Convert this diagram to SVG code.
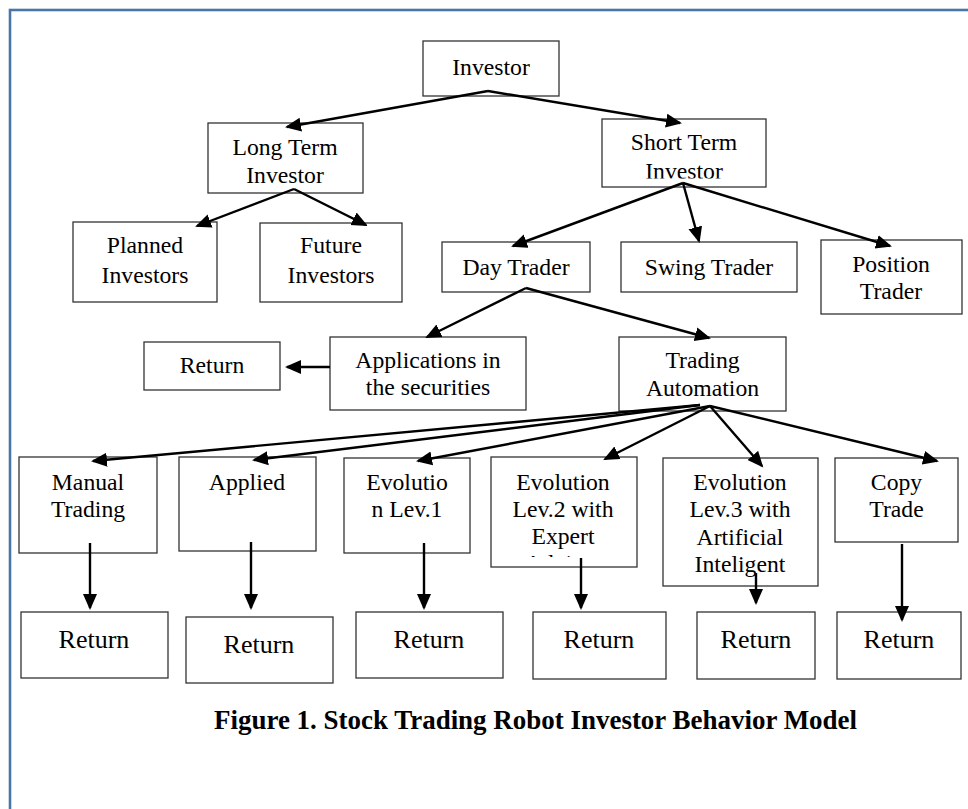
<svg xmlns="http://www.w3.org/2000/svg" width="968" height="809" viewBox="0 0 968 809">
  <style>
    .box { fill: #ffffff; stroke: #333333; stroke-width: 1.3; }
    .t { font-family: "Liberation Serif", "Times New Roman", serif; font-size: 23.7px; fill: #000000; text-anchor: middle; }
    .tr { font-size: 26px; }
    .cap { font-family: "Liberation Serif", "Times New Roman", serif; font-size: 26.5px; font-weight: bold; fill: #000000; }
    .edge { stroke: #000000; stroke-width: 2.4; fill: none; marker-end: url(#arrow); }
  </style>
  <defs>
    <marker id="arrow" markerUnits="userSpaceOnUse" markerWidth="18" markerHeight="16" refX="14" refY="7.5" orient="auto">
      <path d="M0,0.5 L16,7.5 L0,14.5 Z" fill="#000000"/>
    </marker>
    <clipPath id="clipShort"><rect x="602" y="119" width="164" height="59.5"/></clipPath>
    <clipPath id="clipEvo2"><rect x="491" y="457" width="146" height="100"/></clipPath>
  </defs>

  <rect width="968" height="809" fill="#ffffff"/>
  <!-- page frame -->
  <rect x="10" y="10" width="1000" height="850" fill="none" stroke="#4a76a6" stroke-width="2.6"/>

  <g id="investor">
    <rect class="box" x="423" y="41" width="136" height="55"/>
    <text class="t" x="491" y="75">Investor</text>
  </g>
  <g id="long-term">
    <rect class="box" x="208" y="123" width="155" height="70"/>
    <text class="t" x="285" y="155">Long Term</text>
    <text class="t" x="285" y="183">Investor</text>
  </g>
  <g id="short-term">
    <rect class="box" x="602" y="119" width="164" height="68"/>
    <text class="t" x="684" y="150">Short Term</text>
    <text class="t" x="684" y="179" clip-path="url(#clipShort)">Investor</text>
  </g>
  <g id="planned">
    <rect class="box" x="73" y="222" width="144" height="80"/>
    <text class="t" x="145" y="253">Planned</text>
    <text class="t" x="145" y="283">Investors</text>
  </g>
  <g id="future">
    <rect class="box" x="260" y="223" width="142" height="79"/>
    <text class="t" x="331" y="253">Future</text>
    <text class="t" x="331" y="283">Investors</text>
  </g>
  <g id="day-trader">
    <rect class="box" x="442" y="242" width="148" height="50"/>
    <text class="t" x="516" y="275">Day Trader</text>
  </g>
  <g id="swing-trader">
    <rect class="box" x="621" y="242" width="176" height="50"/>
    <text class="t" x="709" y="275">Swing Trader</text>
  </g>
  <g id="position-trader">
    <rect class="box" x="821" y="240" width="141" height="74"/>
    <text class="t" x="891" y="272">Position</text>
    <text class="t" x="891" y="299">Trader</text>
  </g>
  <g id="return-app">
    <rect class="box" x="144" y="342" width="136" height="48"/>
    <text class="t" x="212" y="373">Return</text>
  </g>
  <g id="applications">
    <rect class="box" x="330" y="337" width="196" height="73"/>
    <text class="t" x="428" y="368">Applications in</text>
    <text class="t" x="428" y="395">the securities</text>
  </g>
  <g id="trading-automation">
    <rect class="box" x="619" y="337" width="167" height="74"/>
    <text class="t" x="702.5" y="368">Trading</text>
    <text class="t" x="702.5" y="396">Automation</text>
  </g>

  <g id="manual">
    <rect class="box" x="19" y="457" width="138" height="96"/>
    <text class="t" x="88" y="490">Manual</text>
    <text class="t" x="88" y="517">Trading</text>
  </g>
  <g id="applied">
    <rect class="box" x="179" y="457" width="137" height="94"/>
    <text class="t" x="247" y="490">Applied</text>
  </g>
  <g id="evolution-1">
    <rect class="box" x="344" y="458" width="126" height="95"/>
    <text class="t" x="407" y="490">Evolutio</text>
    <text class="t" x="407" y="517">n Lev.1</text>
  </g>
  <g id="evolution-2">
    <rect class="box" x="491" y="457" width="146" height="110"/>
    <text class="t" x="563" y="490">Evolution</text>
    <text class="t" x="563" y="517">Lev.2 with</text>
    <text class="t" x="563" y="544">Expert</text>
    <text class="t" x="563" y="571" clip-path="url(#clipEvo2)">Advisor</text>
  </g>
  <g id="evolution-3">
    <rect class="box" x="663" y="458" width="155" height="128"/>
    <text class="t" x="740" y="490">Evolution</text>
    <text class="t" x="740" y="517">Lev.3 with</text>
    <text class="t" x="740" y="545">Artificial</text>
    <text class="t" x="740" y="572">Inteligent</text>
  </g>
  <g id="copy-trade">
    <rect class="box" x="835" y="458" width="123" height="84"/>
    <text class="t" x="896.5" y="490">Copy</text>
    <text class="t" x="896.5" y="517">Trade</text>
  </g>

  <g id="return-1">
    <rect class="box" x="21" y="612" width="147" height="66"/>
    <text class="t tr" x="94" y="648">Return</text>
  </g>
  <g id="return-2">
    <rect class="box" x="186" y="617" width="147" height="66"/>
    <text class="t tr" x="259" y="653">Return</text>
  </g>
  <g id="return-3">
    <rect class="box" x="356" y="612" width="147" height="66"/>
    <text class="t tr" x="429" y="648">Return</text>
  </g>
  <g id="return-4">
    <rect class="box" x="533" y="612" width="133" height="67"/>
    <text class="t tr" x="599" y="648">Return</text>
  </g>
  <g id="return-5">
    <rect class="box" x="697" y="612" width="118" height="67"/>
    <text class="t tr" x="756" y="648">Return</text>
  </g>
  <g id="return-6">
    <rect class="box" x="837" y="612" width="124" height="67"/>
    <text class="t tr" x="899" y="648">Return</text>
  </g>

  <g id="connectors">
    <line class="edge" x1="488" y1="91" x2="287" y2="127"/>
    <line class="edge" x1="488" y1="91" x2="680" y2="123"/>
    <line class="edge" x1="294" y1="189" x2="197" y2="226"/>
    <line class="edge" x1="294" y1="189" x2="366" y2="225"/>
    <line class="edge" x1="683" y1="183" x2="513" y2="246"/>
    <line class="edge" x1="683" y1="183" x2="699" y2="241"/>
    <line class="edge" x1="683" y1="183" x2="890" y2="246"/>
    <line class="edge" x1="526" y1="288" x2="427" y2="337"/>
    <line class="edge" x1="526" y1="288" x2="709" y2="338"/>
    <line class="edge" x1="330" y1="367" x2="287" y2="367"/>
    <line class="edge" x1="700" y1="405" x2="93" y2="461"/>
    <line class="edge" x1="700" y1="405" x2="254" y2="460"/>
    <line class="edge" x1="710" y1="406" x2="418" y2="461"/>
    <line class="edge" x1="710" y1="406" x2="605" y2="459"/>
    <line class="edge" x1="710" y1="406" x2="762" y2="466"/>
    <line class="edge" x1="710" y1="406" x2="937" y2="461"/>
    <line class="edge" x1="90" y1="543" x2="90" y2="608"/>
    <line class="edge" x1="251" y1="542" x2="251" y2="608"/>
    <line class="edge" x1="424" y1="543" x2="424" y2="608"/>
    <line class="edge" x1="581" y1="558" x2="581" y2="608"/>
    <line class="edge" x1="756" y1="573" x2="756" y2="603"/>
    <line class="edge" x1="902" y1="544" x2="902" y2="620"/>
  </g>

  <text class="cap" x="214" y="729" textLength="643" lengthAdjust="spacingAndGlyphs">Figure 1. Stock Trading Robot Investor Behavior Model</text>
</svg>
